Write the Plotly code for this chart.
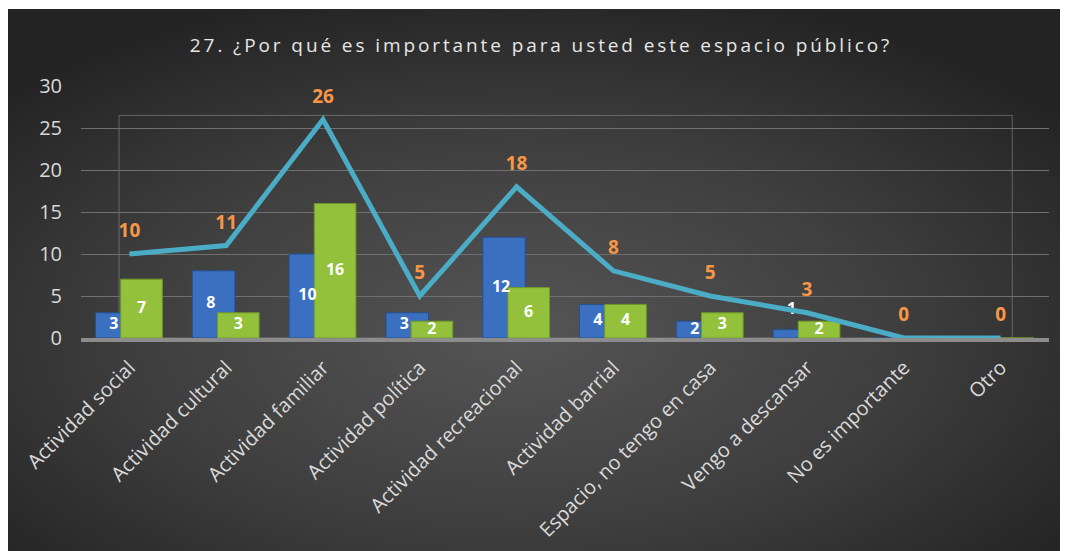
import base64
import plotly.graph_objects as go

categorias = [
    'Actividad social', 'Actividad cultural', 'Actividad familiar',
    'Actividad política', 'Actividad recreacional', 'Actividad barrial',
    'Espacio, no tengo en casa', 'Vengo a descansar', 'No es importante', 'Otro']
serie_azul = [3, 8, 10, 3, 12, 4, 2, 1, 0, 0]
serie_verde = [7, 3, 16, 2, 6, 4, 3, 2, 0, 0]
total = [10, 11, 26, 5, 18, 8, 5, 3, 0, 0]
y_ticks = [0, 5, 10, 15, 20, 25, 30]

titulo = '27. ¿Por qué es importante para usted este espacio público?'

FONT = 'Open Sans'
W, H = 1060, 543
L, R, T, B = 73, 19, 78, 213
pw, ph = W - L - R, H - T - B
idx = list(range(len(categorias)))

# fondo con degradado radial (como el estilo oscuro de Excel)
svg = ('<svg xmlns="http://www.w3.org/2000/svg" width="1060" height="543">'
       '<defs><radialGradient id="g" cx="48%" cy="60%" r="66%">'
       '<stop offset="0" stop-color="#555555"/>'
       '<stop offset="0.55" stop-color="#3e3e3e"/>'
       '<stop offset="1" stop-color="#232323"/>'
       '</radialGradient></defs>'
       '<rect width="1060" height="543" fill="url(#g)"/></svg>')
fondo = 'data:image/svg+xml;base64,' + base64.b64encode(svg.encode()).decode()

fig = go.Figure()

# barras (3D de Excel aproximado: azul detrás, verde delante)
fig.add_bar(
    x=idx, y=serie_azul, offset=-0.35, width=0.44, name='azul',
    marker=dict(color='#3b6fbf', line=dict(color='#25508f', width=1)))
fig.add_bar(
    x=idx, y=serie_verde, offset=-0.09, width=0.43, name='verde',
    marker=dict(color='#93c13b', line=dict(color='#6f9a26', width=1)))

# etiquetas de las barras
lab_azul = [v / 2 if v > 1 else v + 2.3 for v in serie_azul]
lab_verde = [v / 2 for v in serie_verde]
fig.add_trace(go.Scatter(
    x=[i - 0.16 for i in idx if serie_azul[i] > 0],
    y=[lab_azul[i] for i in idx if serie_azul[i] > 0],
    text=[str(serie_azul[i]) for i in idx if serie_azul[i] > 0],
    mode='text', textfont=dict(family=FONT, size=16, color='white', weight='bold'),
    hoverinfo='skip'))
fig.add_trace(go.Scatter(
    x=[i + 0.125 for i in idx if serie_verde[i] > 0],
    y=[lab_verde[i] for i in idx if serie_verde[i] > 0],
    text=[str(serie_verde[i]) for i in idx if serie_verde[i] > 0],
    mode='text', textfont=dict(family=FONT, size=16, color='white', weight='bold'),
    hoverinfo='skip'))

# linea del total
fig.add_trace(go.Scatter(
    x=idx, y=total, mode='lines+markers+text', text=[str(v) for v in total],
    textposition='top center',
    textfont=dict(family=FONT, size=19, color='#f79646', weight='bold'),
    marker=dict(size=18, color='rgba(0,0,0,0)'),
    line=dict(color='#4bacc6', width=5), hoverinfo='skip'))

# pared trasera tenue del grafico 3D
fig.add_shape(type='rect', xref='x', yref='y', x0=-0.107, x1=9.12, y0=0, y1=26.5,
              line=dict(color='rgba(200,200,200,0.35)', width=1), layer='below')

fig.add_layout_image(
    source=fondo, xref='paper', yref='paper',
    x=-L / pw, y=(ph + T - 1) / ph, sizex=W / pw, sizey=(H - 1) / ph,
    xanchor='left', yanchor='top', sizing='stretch', layer='below')

fig.update_xaxes(
    range=[-0.5, 9.5], tickvals=idx, ticktext=categorias, tickangle=-45,
    ticklabelstandoff=6, automargin=False,
    tickfont=dict(family=FONT, size=20, color='#d9d9d9'),
    showgrid=False, showline=True, linecolor='#8c8c8c', linewidth=4, zeroline=False)
fig.update_yaxes(
    range=[0, 30], tickvals=y_ticks, ticklabelstandoff=18, automargin=False,
    tickfont=dict(family=FONT, size=20, color='#d9d9d9'),
    showgrid=True, gridcolor='#707070', gridwidth=1, zeroline=False)

fig.update_layout(
    width=W, height=H,
    barmode='overlay', showlegend=False,
    paper_bgcolor='white', plot_bgcolor='rgba(0,0,0,0)',
    margin=dict(l=L, r=R, t=T, b=B, autoexpand=False),
    title=dict(
        text='<span style="letter-spacing:2.9px">' + titulo + '</span>',
        x=533 / W, xanchor='center', y=1 - 37 / H, yanchor='middle',
        xref='container', yref='container',
        font=dict(family=FONT, size=19, color='#e6e6e6')))

fig.write_html('out.html')
